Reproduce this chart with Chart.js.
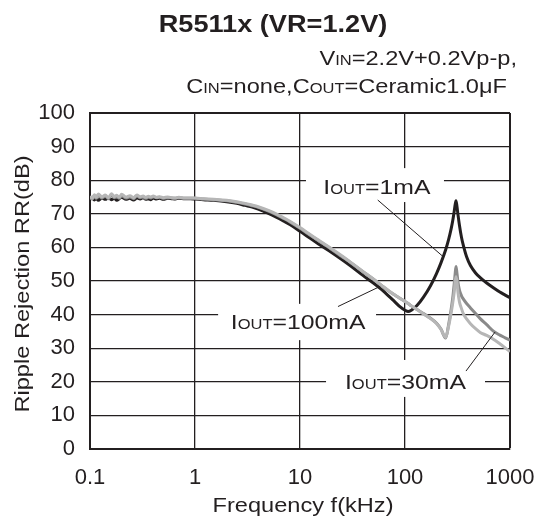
<!DOCTYPE html>
<html>
<head>
<meta charset="utf-8">
<script src="https://cdn.jsdelivr.net/npm/chart.js@4.4.1/dist/chart.umd.min.js"></script>
<style>
  html, body { margin: 0; padding: 0; background: #fff; }
</style>
</head>
<body>
<canvas id="rrChart" width="537" height="519"></canvas>
<script>
// frequency points (kHz), shared by all three curves
const freq = [
  0.1, 0.105, 0.11, 0.115, 0.12, 0.13, 0.14, 0.15, 0.16, 0.17, 0.18, 0.19, 0.2, 0.22, 0.24, 0.26,
  0.28, 0.3, 0.32, 0.34, 0.36, 0.38, 0.4, 0.43, 0.46, 0.5, 0.55, 0.6, 0.65, 0.7, 0.8, 0.9,
  1, 1.2, 1.5, 2, 2.5, 3, 3.5, 4, 5, 6, 7, 8, 10, 12, 15, 20, 25, 30, 40, 50,
  60, 70, 80, 90, 100, 107, 115, 130, 150, 175, 200, 220, 244, 260, 275, 285, 295, 300, 306, 312,
  320, 330, 345, 360, 386, 420, 470, 520, 600, 700, 800, 900, 1000
];

// Ripple rejection (dB)
const rr1mA = [
  74.4, 74.9, 74.1, 74.6, 74.0, 74.7, 74.3, 74.8, 74.2, 74.6, 74.0, 74.5, 74.9, 74.3, 74.6, 74.1,
  74.7, 74.4, 74.8, 74.3, 74.5, 74.2, 74.7, 74.4, 74.6, 74.3, 74.6, 74.5, 74.4, 74.6, 74.5, 74.5,
  74.4, 74.2, 74.0, 73.6, 73.1, 72.5, 72.0, 71.4, 70.1, 68.9, 67.8, 66.8, 64.8, 63.1, 61.0, 58.5, 56.4, 54.6, 51.6, 49.4,
  47.4, 45.5, 43.8, 42.3, 41.3, 40.9, 41.3, 42.7, 45.2, 48.6, 52.3, 55.4, 59.3, 62.3, 65.5, 68.0, 71.0, 72.6, 73.9, 72.4,
  69.6, 66.6, 63.0, 60.5, 57.2, 54.6, 52.4, 51.0, 49.4, 47.9, 46.7, 45.8, 45.0
];
const rr30mA = [
  74.9, 74.4, 75.3, 74.6, 75.5, 74.7, 75.2, 74.5, 75.6, 74.8, 75.1, 74.6, 75.4, 74.7, 75.0, 74.5,
  75.3, 74.8, 75.0, 74.6, 74.9, 74.7, 75.1, 74.8, 74.9, 74.6, 74.8, 74.7, 74.6, 74.8, 74.6, 74.6,
  74.6, 74.4, 74.2, 73.9, 73.4, 72.9, 72.4, 71.9, 70.8, 69.7, 68.6, 67.6, 65.7, 64.0, 62.0, 59.4, 57.3, 55.6, 52.7, 50.5,
  48.6, 47.0, 45.8, 44.8, 43.9, 43.3, 42.6, 41.5, 40.3, 38.9, 37.4, 35.7, 33.0, 37.0, 41.5, 45.0, 49.5, 52.0, 54.3, 52.5,
  49.5, 47.3, 45.6, 44.6, 43.3, 42.0, 40.3, 38.8, 37.0, 35.0, 33.9, 33.1, 32.4
];
const rr100mA = [
  75.2, 74.6, 75.7, 74.9, 75.9, 75.0, 75.6, 74.8, 76.0, 75.1, 75.5, 74.9, 75.8, 75.0, 75.4, 74.8,
  75.6, 75.1, 75.3, 74.9, 75.2, 75.0, 75.3, 74.9, 75.1, 74.8, 75.0, 74.8, 74.7, 74.9, 74.7, 74.7,
  74.7, 74.5, 74.3, 74.0, 73.6, 73.1, 72.6, 72.1, 71.0, 69.9, 68.8, 67.8, 65.9, 64.2, 62.2, 59.6, 57.5, 55.7, 52.8, 50.6,
  48.7, 47.1, 45.8, 44.8, 43.9, 43.3, 42.6, 41.5, 40.2, 38.8, 37.3, 35.6, 33.2, 36.5, 40.5, 43.5, 47.0, 49.5, 51.3, 50.0,
  46.5, 43.8, 41.8, 40.2, 38.7, 37.3, 35.8, 34.7, 33.8, 32.6, 31.3, 30.1, 29.0
];

const xTicks = [0.1, 1, 10, 100, 1000];
const yTicks = [0, 10, 20, 30, 40, 50, 60, 70, 80, 90, 100];

const FONT = '"Liberation Sans", Arial, sans-serif';
const INK = '#231f20';
const SX = 1.18; // the original lettering is a little wider than Arial

function toPoints(ys) {
  return freq.map((f, i) => ({ x: f, y: ys[i] }));
}

// draw a run of text pieces (text, size, bold) with a horizontal stretch
function drawRuns(ctx, runs, x, y, align) {
  ctx.save();
  ctx.fillStyle = INK;
  ctx.textBaseline = 'alphabetic';
  ctx.textAlign = 'left';
  let w = 0;
  runs.forEach(r => {
    ctx.font = (r[2] ? 'bold ' : '') + r[1] + 'px ' + FONT;
    w += ctx.measureText(r[0]).width;
  });
  w *= SX;
  const start = align === 'center' ? x - w / 2 : align === 'right' ? x - w : x;
  ctx.translate(start, y);
  ctx.scale(SX, 1);
  let cx = 0;
  runs.forEach(r => {
    ctx.font = (r[2] ? 'bold ' : '') + r[1] + 'px ' + FONT;
    ctx.fillText(r[0], cx, 0);
    cx += ctx.measureText(r[0]).width;
  });
  ctx.restore();
}

// curve labels, in chart units (kHz, dB)
const notes = [
  { runs: [['I', 21], ['OUT', 14], ['=1mA', 21]], at: [54, 75.9],
    box: [11.4, 235, 73.5, 83.6], lead: [55, 74.1, 230, 57.3] },
  { runs: [['I', 21], ['OUT', 14], ['=100mA', 21]], at: [9.6, 35.7],
    box: [1.66, 53, 32.4, 43.2], lead: [23, 42.4, 58, 48.4] },
  { runs: [['I', 21], ['OUT', 14], ['=30mA', 21]], at: [101, 17.9],
    box: [17.7, 578, 15.5, 26.5], lead: [381, 23.2, 720, 34.8] }
];

const notesPlugin = {
  id: 'notes',
  beforeDatasetsDraw(chart) {
    const { ctx, scales: { x, y } } = chart;
    ctx.save();
    ctx.fillStyle = '#fff';
    notes.forEach(n => {
      const x1 = x.getPixelForValue(n.box[0]), x2 = x.getPixelForValue(n.box[1]);
      const y1 = y.getPixelForValue(n.box[3]), y2 = y.getPixelForValue(n.box[2]);
      ctx.fillRect(x1, y1, x2 - x1, y2 - y1);
    });
    ctx.restore();
  },
  afterDatasetsDraw(chart) {
    const { ctx, scales: { x, y } } = chart;
    ctx.save();
    ctx.strokeStyle = INK;
    ctx.lineWidth = 1;
    notes.forEach(n => {
      ctx.beginPath();
      ctx.moveTo(x.getPixelForValue(n.lead[0]), y.getPixelForValue(n.lead[1]));
      ctx.lineTo(x.getPixelForValue(n.lead[2]), y.getPixelForValue(n.lead[3]));
      ctx.stroke();
      drawRuns(ctx, n.runs, x.getPixelForValue(n.at[0]), y.getPixelForValue(n.at[1]), 'center');
    });
    ctx.restore();
  },
  afterDraw(chart) {
    const ctx = chart.ctx;
    const area = chart.chartArea;
    drawRuns(ctx, [['R5511x (VR=1.2V)', 23, true]], 273, 32, 'center');
    drawRuns(ctx, [['V', 20], ['IN', 14], ['=2.2V+0.2Vp-p,', 20]], 517, 65, 'right');
    drawRuns(ctx, [['C', 20], ['IN', 14], ['=none,C', 20], ['OUT', 14], ['=Ceramic1.0\u03bcF', 20]], 507, 93, 'right');
    // axis titles
    drawRuns(ctx, [['Frequency f(kHz)', 20]], (area.left + area.right) / 2 + 3, 512, 'center');
    ctx.save();
    ctx.translate(29, (area.top + area.bottom) / 2 + 3);
    ctx.rotate(-Math.PI / 2);
    drawRuns(ctx, [['Ripple Rejection RR(dB)', 20]], 0, 0, 'center');
    ctx.restore();
  }
};

const lineStyle = { pointRadius: 0, borderWidth: 3, fill: false, cubicInterpolationMode: 'monotone' };

new Chart(document.getElementById('rrChart'), {
  type: 'line',
  data: {
    datasets: [
      { label: 'IOUT=1mA', data: toPoints(rr1mA), borderColor: INK, order: 3, ...lineStyle },
      { label: 'IOUT=30mA', data: toPoints(rr30mA), borderColor: '#8a8a8a', order: 2, ...lineStyle },
      { label: 'IOUT=100mA', data: toPoints(rr100mA), borderColor: '#b6b6b6', order: 1, ...lineStyle }
    ]
  },
  options: {
    responsive: false,
    animation: false,
    layout: { padding: { top: 113, right: 27, left: 0, bottom: 0 } },
    plugins: { legend: { display: false }, tooltip: { enabled: false } },
    scales: {
      x: {
        type: 'logarithmic',
        min: 0.1,
        max: 1000,
        afterBuildTicks: s => { s.ticks = xTicks.map(v => ({ value: v })); },
        afterFit: s => { s.height = 70; s.paddingLeft = 0; s.paddingRight = 0; },
        grid: { color: INK, lineWidth: c => (c.tick && c.tick.value === 1000 ? 2 : 1.3), drawTicks: false },
        border: { color: INK, width: 2 },
        ticks: {
          font: { family: FONT, size: 22 }, color: INK, padding: 16,
          maxRotation: 0, autoSkip: false, callback: v => String(v)
        }
      },
      y: {
        min: 0,
        max: 100,
        afterBuildTicks: s => { s.ticks = yTicks.map(v => ({ value: v })); },
        afterFit: s => { s.width = 90; s.paddingTop = 0; s.paddingBottom = 0; },
        grid: { color: INK, lineWidth: c => (c.tick && c.tick.value === 100 ? 2 : 1.3), drawTicks: false },
        border: { color: INK, width: 2 },
        ticks: { font: { family: FONT, size: 22 }, color: INK, padding: 15 }
      }
    }
  },
  plugins: [notesPlugin]
});
</script>
</body>
</html>
